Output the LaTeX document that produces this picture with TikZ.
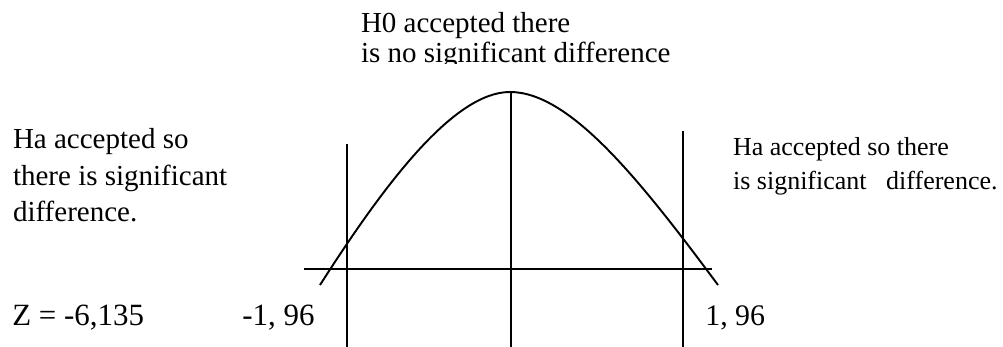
\documentclass[tikz,border=0pt]{standalone}
\usepackage{fontspec}
\setmainfont{Liberation Serif}
\usetikzlibrary{positioning}
\tikzset{trait/.style={line width=1.1pt},note/.style={inner sep=0pt,anchor=north west,align=left},val/.style={inner sep=0pt,anchor=base west,font=\fontsize{17.6}{20}\selectfont}}

\begin{document}
\begin{tikzpicture}[x=0.02cm,y=-0.02cm]
\useasboundingbox (0,0) rectangle (1003,347);
\coordinate (gauche) at (320,285);
\coordinate (sommet) at (510,92);
\coordinate (droite) at (718,285);
\coordinate (axeg) at (304,269.3);
\coordinate (axed) at (712,269.3);
\coordinate (mhaut) at (511,92);
\coordinate (mbas) at (511,347);
\coordinate (ghaut) at (346.7,144);
\coordinate (gbas) at (346.7,347);
\coordinate (dhaut) at (682.7,131);
\coordinate (dbas) at (682.7,347);
\draw[trait] (gauche) .. controls (387,180) and (455,92) .. (sommet) .. controls (570,92) and (640,180) .. (droite);
\draw[trait] (axeg)--(axed);
\draw[trait] (mhaut)--(mbas);
\draw[trait] (ghaut)--(gbas);
\draw[trait] (dhaut)--(dbas);
\begin{scope}
\clip (300,0) rectangle (720,64);
\node[note,font=\fontsize{16.5}{17}\selectfont] (h0) at (360.7,11.9) {H0 accepted there\\is no significant difference};
\end{scope}
\node[note,font=\fontsize{16.5}{20.8}\selectfont] (hagauche) at (12.7,128) {Ha accepted so\\there is significant\\difference.};
\node[note,font=\fontsize{14.8}{19.4}\selectfont] (hadroite) at (732.7,137) {Ha accepted so there\\is significant\ \ \ difference.};
\node[val] (zval) at (12,325) {Z = -6,135};
\node[val] (zneg) at (242,325) {-1, 96};
\node[val,font=\fontsize{17}{20}\selectfont] (zpos) at (705,325) {1, 96};
\end{tikzpicture}
\end{document}
